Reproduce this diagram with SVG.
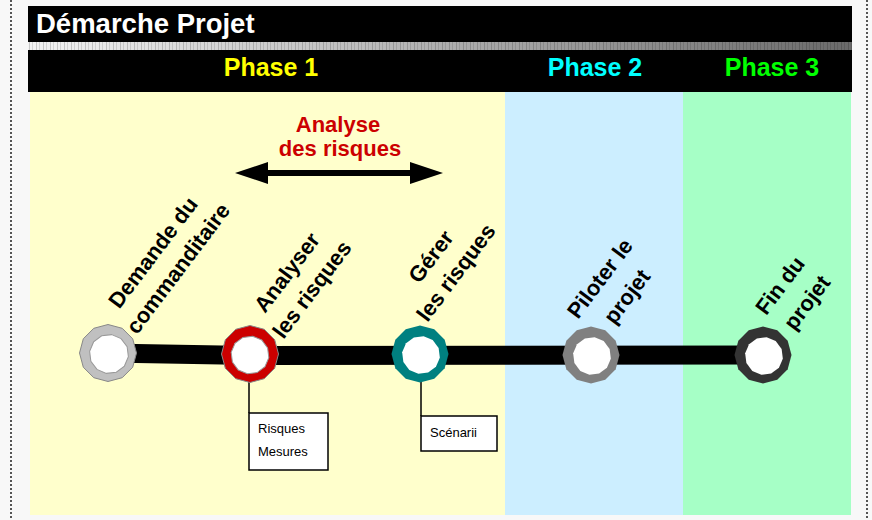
<svg xmlns="http://www.w3.org/2000/svg" width="872" height="520" viewBox="0 0 872 520">
<defs>
<linearGradient id="strip" x1="0" y1="0" x2="1" y2="0">
<stop offset="0" stop-color="#f4f4f4"/>
<stop offset="1" stop-color="#6a6a6a"/>
</linearGradient>
<pattern id="ticks" x="0" y="0" width="7" height="8" patternUnits="userSpaceOnUse">
<rect x="1" y="0" width="1" height="8" fill="#000" opacity="0.18"/>
<rect x="4" y="0" width="1" height="8" fill="#000" opacity="0.12"/>
</pattern>
<polygon id="outer" points="0,-28.5 14.25,-24.68 24.68,-14.25 28.5,0 24.68,14.25 14.25,24.68 0,28.5 -14.25,24.68 -24.68,14.25 -28.5,0 -24.68,-14.25 -14.25,-24.68"/>
<polygon id="inner" points="0,-19 9.5,-16.45 16.45,-9.5 19,0 16.45,9.5 9.5,16.45 0,19 -9.5,16.45 -16.45,9.5 -19,0 -16.45,-9.5 -9.5,-16.45"/>
</defs>
<style>
.lbl{font-family:"Liberation Sans",Arial,sans-serif;font-weight:bold;font-size:22px;fill:#000;text-anchor:middle}
.ph{font-family:"Liberation Sans",Arial,sans-serif;font-weight:bold;font-size:25px;text-anchor:middle}
.box{fill:#fff;stroke:#000;stroke-width:1.5}
.bt{font-family:"Liberation Sans",Arial,sans-serif;font-size:13px;fill:#000}
.ring{stroke:#888;stroke-width:1}
.hole{fill:#fff;stroke:#999;stroke-width:1}
</style>
<rect x="0" y="0" width="872" height="520" fill="#f8f8f8"/>
<line x1="11" y1="0" x2="11" y2="520" stroke="#555" stroke-width="2" stroke-dasharray="2,2"/>
<line x1="867" y1="0" x2="867" y2="520" stroke="#555" stroke-width="2" stroke-dasharray="2,2"/>

<g id="header">
<rect x="28" y="6" width="824" height="86" fill="#000"/>
<rect x="28" y="42" width="824" height="8" fill="url(#strip)"/>
<rect x="28" y="42" width="824" height="8" fill="url(#ticks)"/>
<text x="36" y="33" font-family="'Liberation Sans',Arial,sans-serif" font-weight="bold" font-size="27.5" fill="#fff">Démarche Projet</text>
</g>

<g id="phases">
<rect x="30" y="92" width="475" height="423" fill="#ffffcc"/>
<rect x="505" y="92" width="178" height="423" fill="#cceeff"/>
<rect x="683" y="92" width="168" height="423" fill="#a6ffc6"/>
<text class="ph" x="271" y="76" fill="#ffff00">Phase 1</text>
<text class="ph" x="595" y="76" fill="#00ffff">Phase 2</text>
<text class="ph" x="772" y="76" fill="#00ff00">Phase 3</text>
</g>

<g id="analyse">
<text x="338" y="132" font-family="'Liberation Sans',Arial,sans-serif" font-weight="bold" font-size="22" fill="#cc0000" text-anchor="middle">Analyse</text>
<text x="340" y="156" font-family="'Liberation Sans',Arial,sans-serif" font-weight="bold" font-size="22" fill="#cc0000" text-anchor="middle">des risques</text>
<line x1="266" y1="173" x2="412" y2="173" stroke="#000" stroke-width="6"/>
<polygon points="235,173 268,162 268,184" fill="#000"/>
<polygon points="443,173 410,162 410,184" fill="#000"/>
</g>

<g id="connectors">
<polyline points="108,353 250,355.5 763,355" fill="none" stroke="#000" stroke-width="19"/>
<line x1="249" y1="382" x2="249" y2="413" stroke="#000" stroke-width="1.5"/>
<line x1="421" y1="382" x2="421" y2="416" stroke="#000" stroke-width="1.5"/>
</g>

<g id="n1">
<use href="#outer" class="ring" transform="translate(108,353)" fill="#c0c0c0"/>
<use href="#inner" class="hole" transform="translate(109,354) rotate(8) scale(1.03)"/>
<text class="lbl" transform="translate(159,257) rotate(-53)">Demande du</text>
<text class="lbl" transform="translate(184,273) rotate(-53)">commanditaire</text>
</g>
<g id="n2">
<use href="#outer" class="ring" transform="translate(250,354)" fill="#cc0000"/>
<use href="#inner" class="hole" transform="translate(250,355) rotate(8)"/>
<text class="lbl" transform="translate(293,277) rotate(-53)">Analyser</text>
<text class="lbl" transform="translate(318,294) rotate(-53)">les risques</text>
</g>
<g id="n3">
<use href="#outer" transform="translate(420,354)" fill="#008080"/>
<use href="#inner" transform="translate(421,355) rotate(8)" fill="#fff"/>
<text class="lbl" transform="translate(437,261) rotate(-53)">Gérer</text>
<text class="lbl" transform="translate(462,277) rotate(-53)">les risques</text>
</g>
<g id="n4">
<use href="#outer" transform="translate(591,355)" fill="#808080"/>
<use href="#inner" transform="translate(592,356) rotate(8)" fill="#fff"/>
<text class="lbl" transform="translate(606,283) rotate(-53)">Piloter le</text>
<text class="lbl" transform="translate(633,301) rotate(-53)">projet</text>
</g>
<g id="n5">
<use href="#outer" transform="translate(763,355)" fill="#333333"/>
<use href="#inner" transform="translate(764,356) rotate(8)" fill="#fff"/>
<text class="lbl" transform="translate(786,290) rotate(-53)">Fin du</text>
<text class="lbl" transform="translate(813,307) rotate(-53)">projet</text>
</g>

<g id="box1">
<rect class="box" x="249" y="413" width="79" height="57"/>
<text class="bt" x="258" y="433">Risques</text>
<text class="bt" x="258" y="456">Mesures</text>
</g>
<g id="box2">
<rect class="box" x="421" y="416" width="76" height="35"/>
<text class="bt" x="430" y="437">Scénarii</text>
</g>
</svg>
